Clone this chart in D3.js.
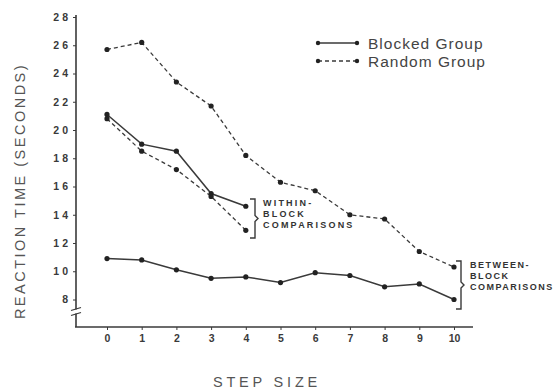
<!DOCTYPE html>
<html>
<head>
<meta charset="utf-8">
<script src="https://cdn.jsdelivr.net/npm/d3@7"></script>
<style>
  body { margin: 0; background: #fff; }
  svg { font-family: "Liberation Sans", Arial, sans-serif; }
</style>
</head>
<body>
<div id="chart"></div>
<script>
// data (reaction time in seconds)
let stepSizes = [0, 1, 2, 3, 4, 5, 6, 7, 8, 9, 10];
let blockedBetween = [1.09, 1.08, 1.01, 0.95, 0.96, 0.92, 0.99, 0.97, 0.89, 0.91, 0.80];
let randomBetween = [2.57, 2.62, 2.34, 2.17, 1.82, 1.63, 1.57, 1.40, 1.37, 1.14, 1.03];
let withinSteps = [0, 1, 2, 3, 4];
let blockedWithin = [2.11, 1.90, 1.85, 1.55, 1.46];
let randomWithin = [2.08, 1.85, 1.72, 1.53, 1.29];

let yTickValues = [0.8, 1.0, 1.2, 1.4, 1.6, 1.8, 2.0, 2.2, 2.4, 2.6, 2.8];
let yTickLabels = ["8", "10", "12", "14", "16", "18", "20", "22", "24", "26", "28"];
let legendNames = ["Blocked Group", "Random Group"];

let ink = "#3a3a3a";
let width = 560, height = 390;

let svg = d3.select("#chart")
  .append("svg")
  .attr("width", width)
  .attr("height", height);

// scales
let x = d3.scaleLinear().domain([0, 10]).range([107, 454]);
let y = d3.scaleLinear().domain([0.8, 2.8]).range([299.5, 17]);

let axisX0 = 76, axisY0 = 327;

// y axis
let yAxis = svg.append("g")
  .attr("transform", "translate(" + axisX0 + ",0)")
  .call(d3.axisLeft(y)
    .tickValues(yTickValues)
    .tickSize(3)
    .tickPadding(2)
    .tickFormat(function(d, i) { return yTickLabels[i]; }));
yAxis.select(".domain").remove();
yAxis.selectAll("line").attr("stroke", ink);
yAxis.selectAll("text")
  .attr("fill", ink)
  .style("font-size", "10.5px")
  .style("font-weight", "bold")
  .style("letter-spacing", "3px");

svg.append("line")
  .attr("x1", axisX0).attr("x2", axisX0)
  .attr("y1", 15).attr("y2", axisY0)
  .attr("stroke", ink).attr("stroke-width", 1.6);

// axis break
svg.append("rect")
  .attr("x", axisX0 - 3).attr("y", 309.5)
  .attr("width", 6).attr("height", 4)
  .attr("fill", "#fff");
[309, 314].forEach(function(b) {
  svg.append("line")
    .attr("x1", axisX0 - 5).attr("x2", axisX0 + 5)
    .attr("y1", b + 1.5).attr("y2", b - 1.5)
    .attr("stroke", ink).attr("stroke-width", 1.3);
});

// x axis
let xAxis = svg.append("g")
  .attr("transform", "translate(0," + axisY0 + ")")
  .call(d3.axisBottom(x)
    .tickValues(stepSizes)
    .tickSize(3)
    .tickPadding(5)
    .tickFormat(d3.format("d")));
xAxis.select(".domain").remove();
xAxis.selectAll("line").attr("stroke", ink);
xAxis.selectAll("text")
  .attr("fill", ink)
  .style("font-size", "10.5px")
  .style("font-weight", "bold");

svg.append("line")
  .attr("x1", axisX0 - 1).attr("x2", 473)
  .attr("y1", axisY0).attr("y2", axisY0)
  .attr("stroke", ink).attr("stroke-width", 1.6);

// axis titles
svg.append("text")
  .attr("x", 267).attr("y", 387)
  .attr("text-anchor", "middle")
  .attr("fill", "#555")
  .style("font-size", "14.5px")
  .style("letter-spacing", "3.8px")
  .text("STEP SIZE");

svg.append("text")
  .attr("transform", "translate(25,191) rotate(-90)")
  .attr("text-anchor", "middle")
  .attr("fill", "#555")
  .style("font-size", "14.5px")
  .style("letter-spacing", "2.5px")
  .text("REACTION TIME (SECONDS)");

// lines + dots
function drawSeries(xs, ys, dashed) {
  let pts = xs.map(function(d, i) { return [d, ys[i]]; });
  let line = d3.line()
    .x(function(d) { return x(d[0]); })
    .y(function(d) { return y(d[1]); });
  svg.append("path")
    .datum(pts)
    .attr("d", line)
    .attr("fill", "none")
    .attr("stroke", ink)
    .attr("stroke-width", dashed ? 1.3 : 1.5)
    .attr("stroke-dasharray", dashed ? "4,3" : null);
  svg.append("g")
    .selectAll("circle")
    .data(pts)
    .enter()
    .append("circle")
    .attr("cx", function(d) { return x(d[0]); })
    .attr("cy", function(d) { return y(d[1]); })
    .attr("r", 2.6)
    .attr("fill", "#222");
}

drawSeries(stepSizes, blockedBetween, false);
drawSeries(stepSizes, randomBetween, true);
drawSeries(withinSteps, blockedWithin, false);
drawSeries(withinSteps, randomWithin, true);

// legend
legendNames.forEach(function(name, i) {
  let ly = 43 + i * 18;
  let g = svg.append("g");
  g.append("line")
    .attr("x1", 318).attr("x2", 357)
    .attr("y1", ly).attr("y2", ly)
    .attr("stroke", ink).attr("stroke-width", 1.3)
    .attr("stroke-dasharray", i == 1 ? "4,3" : null);
  [318, 357].forEach(function(cx) {
    g.append("circle").attr("cx", cx).attr("cy", ly).attr("r", 2.2).attr("fill", "#222");
  });
  g.append("text")
    .attr("x", 368).attr("y", ly + 5.5)
    .attr("fill", "#444")
    .style("font-size", "15.5px")
    .style("letter-spacing", "1px")
    .text(name);
});

// brackets with annotations
function bracket(bx, top, bottom, lines, tx, spacing) {
  let mid = (top + bottom) / 2;
  let p = d3.path();
  p.moveTo(bx - 5, top);
  p.lineTo(bx, top);
  p.lineTo(bx, mid - 3);
  p.lineTo(bx + 3, mid);
  p.lineTo(bx, mid + 3);
  p.lineTo(bx, bottom);
  p.lineTo(bx - 5, bottom);
  svg.append("path")
    .attr("d", p.toString())
    .attr("fill", "none")
    .attr("stroke", ink)
    .attr("stroke-width", 1.4);
  svg.append("g")
    .selectAll("text")
    .data(lines)
    .enter()
    .append("text")
    .attr("x", tx)
    .attr("y", function(d, i) { return top + 7 + i * 11; })
    .attr("fill", "#333")
    .style("font-size", "9px")
    .style("font-weight", "bold")
    .style("letter-spacing", spacing + "px")
    .text(function(d) { return d; });
}

bracket(255, 199, 238, ["WITHIN-", "BLOCK", "COMPARISONS"], 263, 2.2);
bracket(461, 261, 309, ["BETWEEN-", "BLOCK", "COMPARISONS"], 470, 1.5);
</script>
</body>
</html>
